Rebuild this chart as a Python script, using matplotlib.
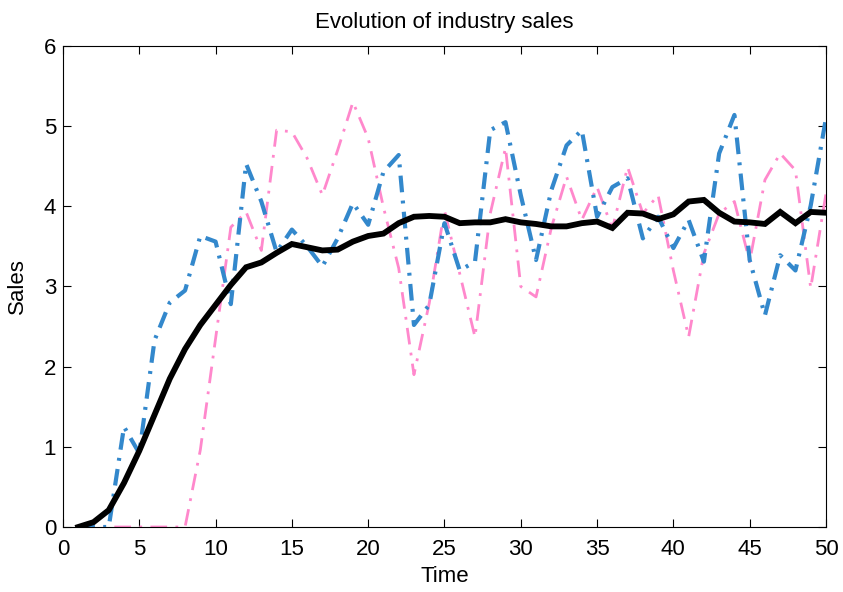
import matplotlib.pyplot as plt
import numpy as np

plt.rcParams['font.family'] = ['Liberation Sans', 'DejaVu Sans']

time = np.arange(1, 51)

industry = [0.0, 0.06, 0.21, 0.55, 0.95, 1.40, 1.85, 2.22, 2.52, 2.77,
            3.02, 3.24, 3.30, 3.42, 3.53, 3.49, 3.45, 3.46, 3.56, 3.63,
            3.66, 3.79, 3.87, 3.88, 3.87, 3.79, 3.80, 3.80, 3.84, 3.80,
            3.78, 3.75, 3.75, 3.79, 3.81, 3.73, 3.92, 3.91, 3.84, 3.90,
            4.06, 4.08, 3.92, 3.81, 3.80, 3.78, 3.93, 3.79, 3.93, 3.92]

firm_a = [0.0, 0.0, 0.0, 1.25, 0.92, 2.33, 2.80, 2.95, 3.63, 3.56,
          2.78, 4.53, 4.06, 3.43, 3.71, 3.50, 3.25, 3.60, 4.04, 3.77,
          4.43, 4.64, 2.52, 2.77, 3.79, 3.20, 3.31, 4.95, 5.05, 4.14,
          3.33, 4.20, 4.76, 4.95, 3.87, 4.24, 4.35, 3.60, 3.87, 3.48,
          3.83, 3.31, 4.66, 5.14, 3.33, 2.64, 3.39, 3.20, 4.01, 5.10]

firm_b = [0.0, 0.0, 0.0, 0.0, 0.0, 0.0, 0.0, 0.0, 0.96, 2.35,
          3.74, 3.93, 3.45, 4.95, 4.93, 4.60, 4.14, 4.70, 5.30, 4.85,
          3.99, 3.23, 1.90, 2.79, 3.95, 3.16, 2.37, 3.91, 4.73, 3.00,
          2.87, 3.73, 4.37, 3.83, 4.24, 3.72, 4.49, 3.91, 4.14, 3.20,
          2.37, 3.41, 3.91, 4.06, 3.31, 4.33, 4.66, 4.45, 2.98, 4.16]

fig = plt.figure(figsize=(8.43, 5.92), dpi=100)
ax = fig.add_axes([0.0747, 0.1098, 0.9051, 0.8125])

ax.plot(time, firm_b, color='#ff88cc', linewidth=2.0, dashes=(6, 3, 1, 3))
ax.plot(time, firm_a, color='#3388cc', linewidth=3.0, dashes=(4, 2, 0.7, 2))
ax.plot(time, industry, color='black', linewidth=4.2, solid_joinstyle='miter')

ax.set_xlim(0, 50)
ax.set_ylim(0, 6)
ax.set_xticks(range(0, 51, 5))
ax.set_yticks(range(0, 7))
ax.tick_params(direction='in', top=True, right=True, length=6, width=0.8,
               labelsize=16)
ax.tick_params(axis='x', pad=9)
ax.tick_params(axis='y', pad=5)
ax.set_xlabel('Time', fontsize=16, labelpad=4)
ax.set_ylabel('Sales', fontsize=16, labelpad=11)
ax.set_title('Evolution of industry sales', fontsize=16, pad=13)
for s in ax.spines.values():
    s.set_linewidth(0.8)

fig.savefig('out.png', dpi=100)
